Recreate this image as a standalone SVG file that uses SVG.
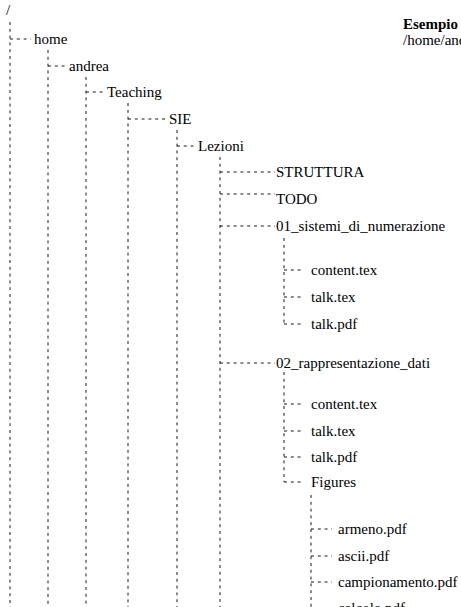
<svg xmlns="http://www.w3.org/2000/svg" width="461" height="607" viewBox="0 0 461 607" font-family="'Liberation Serif', 'Times New Roman', Times, serif">
  <style>
    text { font-family: 'Liberation Serif', 'Times New Roman', Times, serif; font-size: 15px; fill: #000; }
    .title { font-weight: bold; }
    .tree line { stroke: #000; stroke-width: 0.9; stroke-dasharray: 3 3.8; fill: none; }
  </style>
  <rect width="461" height="607" fill="#fff"/>

  <!-- caption at the top right -->
  <g id="caption">
    <text class="title" x="403" y="29">Esempio</text>
    <text x="403" y="45">/home/andrea/Teaching/SIE/Lezioni</text>
  </g>

  <!-- dashed tree connectors -->
  <g id="connectors" class="tree">
    <!-- trunks -->
    <line x1="10" y1="22" x2="10" y2="607"/>
    <line x1="48" y1="50" x2="48" y2="607"/>
    <line x1="86" y1="77" x2="86" y2="607"/>
    <line x1="128" y1="103" x2="128" y2="607"/>
    <line x1="177" y1="130" x2="177" y2="607"/>
    <line x1="220" y1="157" x2="220" y2="607"/>
    <line x1="284" y1="238" x2="284" y2="324"/>
    <line x1="284" y1="372" x2="284" y2="482"/>
    <line x1="311" y1="495" x2="311" y2="607"/>
    <!-- branches -->
    <line x1="10" y1="39" x2="31" y2="39"/>
    <line x1="48" y1="66" x2="67" y2="66"/>
    <line x1="86" y1="92" x2="105" y2="92"/>
    <line x1="128" y1="119" x2="166" y2="119"/>
    <line x1="177" y1="146" x2="196" y2="146"/>
    <line x1="220" y1="172" x2="275" y2="172"/>
    <line x1="220" y1="194" x2="275" y2="194"/>
    <line x1="220" y1="226" x2="275" y2="226"/>
    <line x1="284" y1="270" x2="304" y2="270"/>
    <line x1="284" y1="297" x2="304" y2="297"/>
    <line x1="284" y1="324" x2="304" y2="324"/>
    <line x1="220" y1="363" x2="275" y2="363"/>
    <line x1="284" y1="404" x2="304" y2="404"/>
    <line x1="284" y1="431" x2="304" y2="431"/>
    <line x1="284" y1="457" x2="304" y2="457"/>
    <line x1="284" y1="482" x2="304" y2="482"/>
    <line x1="311" y1="529" x2="332" y2="529"/>
    <line x1="311" y1="556" x2="332" y2="556"/>
    <line x1="311" y1="582" x2="332" y2="582"/>
  </g>

  <!-- tree entries -->
  <g id="root"><text x="6" y="15">/</text></g>
  <g id="home"><text x="34" y="44">home</text></g>
  <g id="andrea"><text x="69" y="71">andrea</text></g>
  <g id="teaching"><text x="107" y="97">Teaching</text></g>
  <g id="sie"><text x="169" y="124">SIE</text></g>
  <g id="lezioni"><text x="198" y="151">Lezioni</text></g>
  <g id="struttura"><text x="276" y="177">STRUTTURA</text></g>
  <g id="todo"><text x="276" y="204">TODO</text></g>
  <g id="sistemi"><text x="276" y="231">01_sistemi_di_numerazione</text></g>
  <g id="sistemi-content"><text x="311" y="275">content.tex</text></g>
  <g id="sistemi-talk-tex"><text x="311" y="302">talk.tex</text></g>
  <g id="sistemi-talk-pdf"><text x="311" y="329">talk.pdf</text></g>
  <g id="rappresentazione"><text x="276" y="368">02_rappresentazione_dati</text></g>
  <g id="rapp-content"><text x="311" y="409">content.tex</text></g>
  <g id="rapp-talk-tex"><text x="311" y="436">talk.tex</text></g>
  <g id="rapp-talk-pdf"><text x="311" y="462">talk.pdf</text></g>
  <g id="figures"><text x="311" y="487">Figures</text></g>
  <g id="armeno"><text x="338" y="534">armeno.pdf</text></g>
  <g id="ascii"><text x="338" y="561">ascii.pdf</text></g>
  <g id="campionamento"><text x="338" y="587">campionamento.pdf</text></g>
  <g id="calcolo"><text x="338" y="613">calcolo.pdf</text></g>
</svg>
